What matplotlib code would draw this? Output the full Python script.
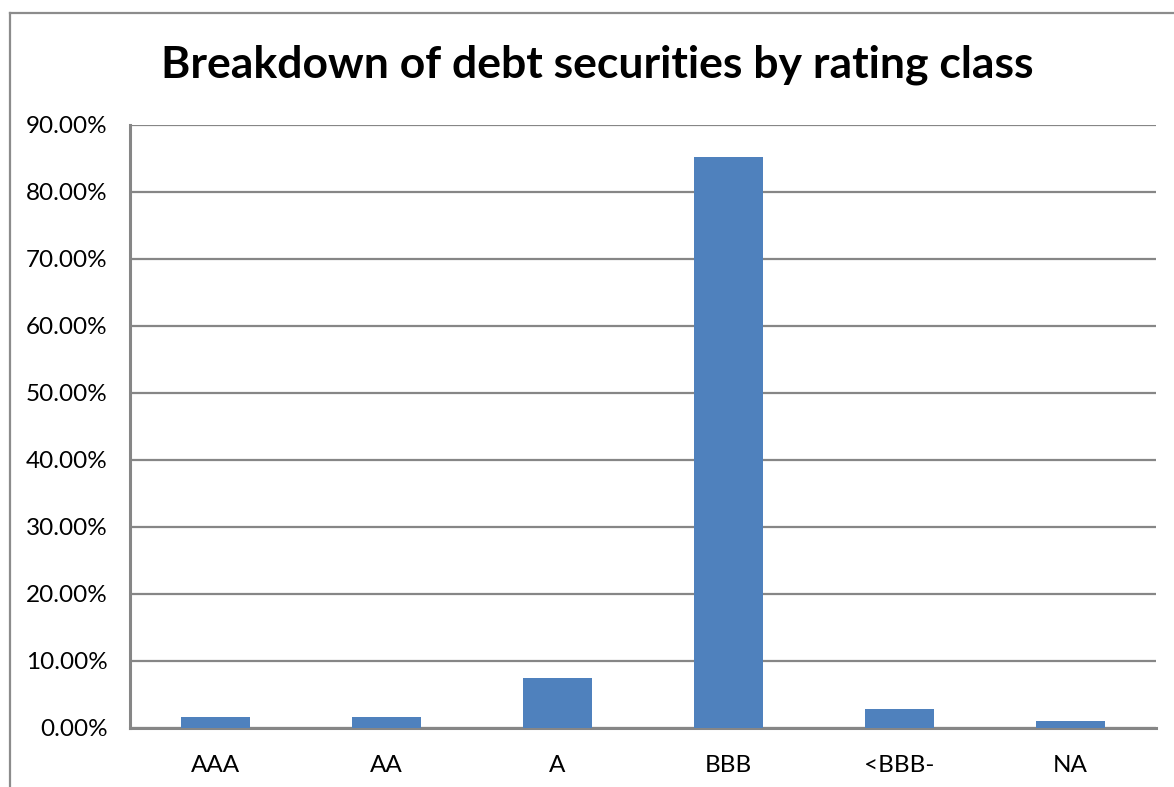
import matplotlib.pyplot as plt
from matplotlib.ticker import FuncFormatter
from matplotlib.lines import Line2D

# data
categories = ["AAA", "AA", "A", "BBB", "<BBB-", "NA"]
shares = [1.55, 1.55, 7.45, 85.1, 2.75, 0.95]
yticks = [0, 10, 20, 30, 40, 50, 60, 70, 80, 90]

plt.rcParams['font.family'] = ['Lato', 'DejaVu Sans']

fig = plt.figure(figsize=(11.74, 7.87), dpi=100)
ax = fig.add_axes([130 / 1174, 1 - 727.7 / 787, 1026 / 1174, (727.7 - 124.5) / 787])

grid_col = "#868686"
ax.bar(range(len(categories)), shares, width=0.4, color="#4F81BD", zorder=3)
ax.set_xlim(-0.5, len(categories) - 0.5)
ax.set_ylim(0, 90)
ax.set_yticks(yticks)
ax.yaxis.set_major_formatter(FuncFormatter(lambda v, p: "%.2f%%" % v))
ax.set_xticks(range(len(categories)))
ax.set_xticklabels(categories)
ax.grid(axis="y", color=grid_col, linewidth=1.6, zorder=0)
ax.tick_params(axis="both", length=0, labelsize=17.5, colors="black")
ax.tick_params(axis="y", pad=16)
ax.tick_params(axis="x", pad=20)
for s in ["top", "right"]:
    ax.spines[s].set_visible(False)
for s in ["left", "bottom"]:
    ax.spines[s].set_color(grid_col)
    ax.spines[s].set_linewidth(2.2)

# outer chart border (left and top visible)
fig.add_artist(Line2D([10 / 1174, 10 / 1174], [0, 1 - 13 / 787], transform=fig.transFigure, color="#8c8c8c", linewidth=1.6))
fig.add_artist(Line2D([10 / 1174, 1], [1 - 13 / 787, 1 - 13 / 787], transform=fig.transFigure, color="#8c8c8c", linewidth=1.6))

fig.text(597 / 1174, 1 - 65 / 787, "Breakdown of debt securities by rating class",
         ha="center", va="center", fontsize=32, fontweight="bold")

fig.savefig("out.png", dpi=100)
